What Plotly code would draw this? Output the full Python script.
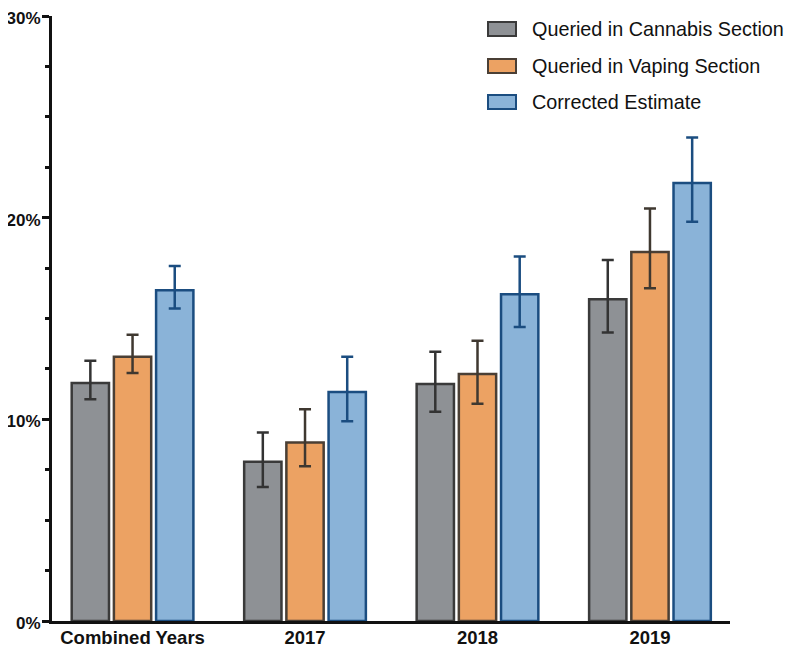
import plotly.graph_objects as go

# values (percent)
categories = ["Combined Years", "2017", "2018", "2019"]
series_names = ["Queried in Cannabis Section", "Queried in Vaping Section", "Corrected Estimate"]

cannabis = [11.8, 7.9, 11.75, 15.95]
cannabis_hi = [12.9, 9.35, 13.35, 17.9]
cannabis_lo = [11.0, 6.65, 10.37, 14.3]

vaping = [13.1, 8.85, 12.25, 18.3]
vaping_hi = [14.2, 10.5, 13.9, 20.45]
vaping_lo = [12.3, 7.67, 10.77, 16.5]

corrected = [16.4, 11.35, 16.2, 21.72]
corrected_hi = [17.6, 13.1, 18.08, 23.97]
corrected_lo = [15.5, 9.9, 14.58, 19.8]

y_ticks = [0, 10, 20, 30]
y_tick_text = ["0%", "10%", "20%", "30%"]

fills = ["#8e9195", "#eca263", "#8ab3d8"]
edges = ["#3a3a3a", "#4a3f35", "#1b4d80"]
err_cols = ["#333333", "#3f3830", "#1b4d80"]

fig = go.Figure()
series = [(cannabis, cannabis_hi, cannabis_lo),
          (vaping, vaping_hi, vaping_lo),
          (corrected, corrected_hi, corrected_lo)]
for i, (vals, hi, lo) in enumerate(series):
    fig.add_trace(go.Bar(
        x=categories, y=vals, name=series_names[i],
        marker=dict(color=fills[i], line=dict(color=edges[i], width=2.5)),
        error_y=dict(type="data", symmetric=False,
                     array=[h - v for h, v in zip(hi, vals)],
                     arrayminus=[v - l for v, l in zip(vals, lo)],
                     color=err_cols[i], thickness=2.5, width=6),
        showlegend=False,
    ))

# the page body has an 8px margin: keep the figure inside the window and shift it back
OFF = 8
W, H = 795 - 2 * OFF, 658 - 2 * OFF
L, T = 52 - OFF, 16 - OFF
R, B = W - (730 - OFF), H - (621 - OFF)
pw, ph = W - L - R, H - T - B
def px(x): return (x - OFF - L) / pw          # page pixel -> paper
def py(y): return (H - B - (y - OFF)) / ph

# hand-made legend so the swatches match the wide boxes of the original
for i, (name, cy) in enumerate(zip(series_names, [29, 66, 102])):
    fig.add_shape(type="rect", xref="paper", yref="paper",
                  x0=px(488), x1=px(516), y0=py(cy + 7), y1=py(cy - 7),
                  fillcolor=fills[i], line=dict(color=edges[i], width=2))
    fig.add_annotation(xref="paper", yref="paper", x=px(530), y=py(cy),
                       xanchor="left", yanchor="middle", showarrow=False,
                       text=name, font=dict(size=19.8, color="#111111",
                                            family="Liberation Sans, Arial, sans-serif"))

fig.update_layout(
    width=W, height=H,
    margin=dict(l=L, r=R, t=T, b=B),
    plot_bgcolor="white", paper_bgcolor="white",
    barmode="group", bargap=0.266, bargroupgap=0.116,
    font=dict(family="Liberation Sans, Arial, sans-serif", color="#111111"),
)
fig.update_xaxes(range=[-0.467, 3.464], showline=True, linecolor="#111111", linewidth=3,
                 ticks="", showgrid=False, zeroline=False, automargin=False,
                 ticklabeloverflow="allow", ticklabelstandoff=-2,
                 tickfont=dict(size=18.5, family="Liberation Sans, Arial, sans-serif",
                               weight="bold", color="#111111"))
fig.update_yaxes(range=[0, 30], tickvals=y_ticks, ticktext=y_tick_text,
                 showline=True, linecolor="#111111", linewidth=3,
                 ticks="outside", ticklen=7, tickwidth=2.5, tickcolor="#111111",
                 minor=dict(dtick=2.5, ticks="outside", ticklen=4, tickwidth=2.5,
                            tickcolor="#111111", showgrid=False),
                 showgrid=False, zeroline=False, automargin=False,
                 ticklabeloverflow="allow", ticklabelstandoff=-2, ticklabelshift=2,
                 tickfont=dict(size=17, family="Liberation Sans, Arial, sans-serif",
                               weight="bold", color="#111111"))

fig.write_html("out.html")
